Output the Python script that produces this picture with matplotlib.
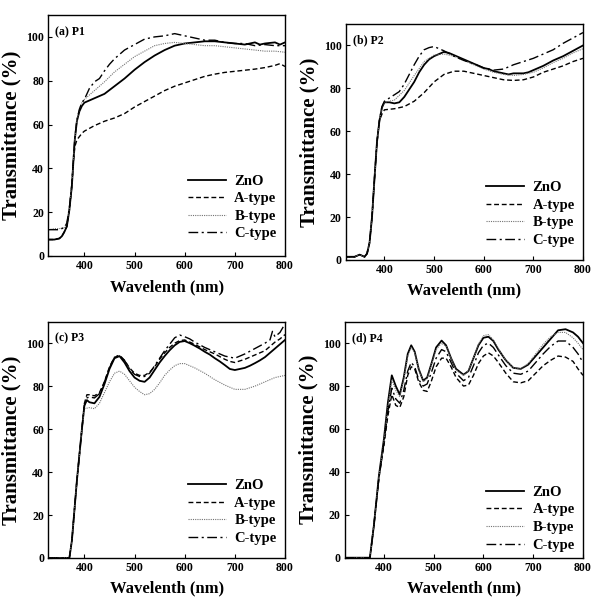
import numpy as np
import matplotlib
matplotlib.use("Agg")
import matplotlib.pyplot as plt

plt.rcParams['font.family'] = ['Liberation Serif', 'DejaVu Serif']
plt.rcParams['font.weight'] = 'bold'

# ---- (a) P1 ----
wl_p1_zno = [328, 340, 350, 355, 360, 365, 370, 375, 378, 381, 385, 390, 395, 400, 420, 440, 460, 480, 500,
             520, 540, 560, 580, 600, 620, 640, 660, 680, 700, 720, 740, 750, 760, 780, 790, 800]
t_p1_zno = [7.5, 7.5, 8, 9, 11, 13.5, 21, 32, 43, 53.5, 61.5, 66, 68.5, 70, 72, 74, 77.5, 81, 85,
            88.5, 91.5, 94, 96, 97, 97.5, 98, 98, 97.5, 97, 96.5, 97.5, 96.5, 97, 97.5, 96.5, 97.5]
wl_p1_a = [328, 340, 350, 355, 360, 365, 370, 375, 378, 381, 385, 390, 395, 400, 420, 440, 460, 480, 500,
           520, 540, 560, 580, 600, 620, 640, 660, 680, 700, 720, 740, 760, 780, 790, 800]
t_p1_a = [7.5, 7.5, 8, 9, 11, 13.5, 21, 32, 43, 50, 53, 54.5, 56, 57, 59.5, 61.5, 63, 65, 68,
          70.5, 73, 75.5, 77.5, 79, 80.5, 82, 83, 83.8, 84.3, 84.8, 85.3, 86, 87, 87.8, 86.5]
wl_p1_b = [328, 340, 350, 360, 365, 370, 375, 378, 381, 385, 390, 395, 400, 420, 440, 460, 480, 500, 520,
           540, 560, 580, 600, 620, 640, 660, 680, 700, 720, 740, 760, 780, 800]
t_p1_b = [12, 12.5, 12.5, 13, 15, 22, 33, 44, 54, 62, 67, 70, 71.5, 75.5, 79.5, 84, 87.5, 91, 93.5,
          96, 97, 97.5, 97, 96.5, 96, 96, 95.5, 95, 94.5, 94, 93.5, 93.5, 93]
wl_p1_c = [328, 340, 350, 360, 365, 370, 375, 378, 381, 385, 390, 395, 400, 410, 420, 430, 440, 450, 460,
           470, 480, 500, 520, 540, 560, 580, 600, 620, 640, 660, 680, 700, 720, 740, 760, 780, 800]
t_p1_c = [12, 12, 12, 13, 15, 22, 33, 44, 54, 62, 67, 70, 71.5, 76.5, 79.5, 81, 84.5, 87.5, 90,
          92, 94, 96.5, 99, 100, 100.5, 101.5, 100.5, 99.5, 98.5, 98.5, 97.5, 97, 97, 96, 96.5, 96, 96]

# ---- (b) P2 ----
wl_p2_edge = [322, 330, 340, 345, 350, 355, 360, 365, 370, 375, 380, 385, 390]
t_p2_edge = [1.5, 1.5, 1.5, 2.0, 2.5, 2, 1.5, 3, 8, 20, 38, 55, 65]
wl_p2_zno = [395, 400, 410, 420, 430, 440, 450, 460, 470, 480, 490, 500, 510, 520, 530, 540, 550, 560, 570,
             580, 590, 600, 610, 620, 630, 640, 650, 660, 670, 680, 690, 700, 720, 740, 760, 780, 800]
t_p2_zno = [71, 73.5, 73.5, 73, 73.5, 76, 79.5, 83, 87.5, 91, 93.5, 95, 96, 97, 96.5, 95.5, 94.5, 93.5, 92.5,
            91.5, 90.5, 89.5, 89, 88, 87.5, 87, 86.5, 87, 87, 87, 87.5, 88.5, 90.5, 93, 95, 97.5, 100]
wl_p2_a = [395, 400, 420, 440, 460, 480, 500, 520, 540, 560, 580, 600, 620, 640, 660, 680, 700, 720, 740,
           760, 780, 800]
t_p2_a = [68, 70, 70.5, 71.5, 74, 78, 83, 86.5, 88, 88, 87, 86, 85, 84, 83.7, 84, 85.3, 87.5, 89,
          90.5, 92.5, 94]
wl_p2_b = [395, 400, 420, 440, 460, 480, 500, 520, 540, 560, 580, 600, 620, 640, 660, 680, 700, 720, 740,
           760, 780, 800]
t_p2_b = [71, 73.5, 74.5, 79, 86, 92.5, 95.5, 96, 95, 93, 91, 89, 87.5, 86.5, 86, 86.5, 87.5, 89.5, 92,
          94, 96.5, 98.5]
wl_p2_c = [395, 400, 410, 420, 430, 440, 450, 460, 470, 480, 490, 500, 510, 520, 540, 560, 580, 600, 620,
           640, 660, 680, 700, 720, 740, 760, 780, 800]
t_p2_c = [71.5, 74, 75.5, 77, 78.5, 82, 86.5, 91, 95, 98, 99, 99.5, 98.5, 97.5, 95, 93, 91.5, 89.5, 88.5,
          89, 91, 92.5, 94, 96, 98, 101, 103.5, 106]

# ---- (c) P3 ----
wl_p3_edge = [328, 360, 370, 375, 380, 385, 390, 395]
t_p3_edge = [0, 0, 0, 8, 22, 36, 48, 60]
wl_p3_zno = [395, 400, 405, 410, 420, 430, 440, 450, 460, 470, 480, 490, 500, 510, 520, 530, 540, 550, 560,
             570, 580, 590, 600, 610, 620, 630, 640, 650, 660, 670, 680, 690, 700, 710, 720, 730, 740, 750,
             760, 770, 780, 790, 800]
t_p3_zno = [60, 71, 73.5, 72.5, 72, 75, 81, 88, 93, 94, 91, 87, 84, 82.5, 82, 84, 87.5, 91, 94,
            96.7, 99, 100.6, 101, 100, 98.8, 97.5, 96, 94.7, 93, 91.5, 89.8, 88, 87.5, 88, 88.5, 89.5, 90.7, 92,
            93.5, 95.5, 97.5, 99.5, 101.5]
wl_p3_a = [395, 400, 405, 410, 420, 430, 440, 450, 460, 470, 480, 490, 500, 510, 520, 530, 540, 550, 560,
           570, 580, 590, 600, 610, 620, 640, 660, 680, 690, 700, 720, 740, 760, 770, 780, 790, 800]
t_p3_a = [60, 72, 76, 76, 75.5, 77, 82, 89, 93.5, 94, 92, 88.5, 86, 85, 85, 86.5, 89, 92.5, 95.5,
          98, 100, 101.2, 101.5, 100.5, 99.5, 97, 95, 92.5, 91.5, 91, 92.5, 94.5, 96.5, 98.5, 100.5, 102, 104]
wl_p3_b = [395, 400, 410, 420, 430, 440, 450, 460, 470, 480, 490, 500, 510, 520, 530, 540, 550, 560, 570,
           580, 590, 600, 610, 620, 640, 660, 680, 700, 720, 740, 760, 780, 800]
t_p3_b = [60, 69.5, 70, 69.5, 72, 77, 82, 86, 87, 85.5, 82.5, 79.5, 77.5, 76, 76.5, 78.5, 81.5, 85, 87.5,
          89.5, 90.5, 90.5, 89.5, 88.5, 86, 83, 80.5, 78.5, 78.5, 80, 82, 84, 85]
wl_p3_c = [395, 400, 405, 410, 420, 430, 440, 450, 460, 470, 480, 490, 500, 510, 520, 530, 540, 550, 560,
           570, 580, 590, 600, 610, 620, 640, 660, 680, 690, 700, 720, 740, 760, 770, 775, 780, 790, 800]
t_p3_c = [60, 71, 74.5, 75, 74.5, 76.5, 82, 88.5, 93.5, 94.5, 92, 88, 85.5, 84.5, 84.5, 86, 89.5, 93, 96.5,
          99.5, 102.5, 103.8, 103, 102, 100.5, 98, 96, 94, 93.5, 93, 95, 97.5, 100, 101.5, 105.5, 103, 105, 109]

# ---- (d) P4 ----
wl_p4 = [322, 360, 372, 380, 390, 400, 408, 416, 424, 432, 440, 448, 455, 462, 470, 479, 487, 495, 505,
         516, 525, 535, 545, 560, 570, 580, 590, 600, 610, 620, 630, 645, 660, 675, 690, 705, 720, 735,
         750, 765, 780, 790, 800]
t_p4_zno = [0, 0, 0, 15, 38, 55, 72, 85, 80, 76, 84, 95, 99, 96, 88, 82.5, 84, 90, 98,
            101.2, 99, 93, 88, 85.3, 87, 93, 99, 102.5, 103, 101, 97, 92, 88.5, 88, 90, 94, 98, 102,
            106, 106.5, 105, 103, 100]
t_p4_a = [0, 0, 0, 15, 37, 52, 66, 76, 71, 70, 75, 85, 89, 88, 82, 78, 77.5, 82, 89,
          93, 93, 89, 84, 80, 80.5, 85, 90.5, 94, 95.5, 94, 91, 86, 82, 81.5, 82.5, 86, 89.5, 92,
          94, 93.5, 91.5, 88, 85]
t_p4_b = [0, 0, 0, 15, 38, 54, 70, 83, 78, 75, 83, 94, 98, 95.5, 88, 82, 83.5, 89.5, 97,
          100, 98.5, 93, 87.5, 85, 87, 93, 99.5, 103.5, 104, 101.5, 97.5, 92, 88.5, 88, 90.5, 95, 99.5, 103,
          105, 105, 102.5, 100, 97]
t_p4_c = [0, 0, 0, 15, 37, 53, 68, 79, 74, 72, 78, 87, 91, 89, 83, 80, 81, 86, 93,
          97, 96, 91, 86, 82.5, 84, 89.5, 95.5, 99, 100, 98, 94.5, 89.5, 86, 85.5, 87, 91, 95, 98.5,
          101, 101, 98, 95, 91]

labels = ['ZnO', 'A-type', 'B-type', 'C-type']
styles = [dict(color='black', lw=1.3, ls='-'),
          dict(color='black', lw=1.0, ls=(0, (3.5, 2))),
          dict(color='0.45', lw=0.8, ls=(0, (1, 1))),
          dict(color='black', lw=1.0, ls=(0, (7, 2.5, 1.5, 2.5)))]

fig = plt.figure(figsize=(6.02, 6.04), dpi=100)
W, H = 602.0, 604.0


def make_ax(left, top, right, bottom):
    return fig.add_axes([left / W, 1 - bottom / H, (right - left) / W, (bottom - top) / H])


def decorate(ax, xmin, title, leg_y):
    ax.set_xlim(xmin, 800)
    ax.set_ylim(0, 110)
    ax.set_xticks([400, 500, 600, 700, 800])
    ax.set_yticks([0, 20, 40, 60, 80, 100])
    ax.tick_params(direction='in', length=3, width=0.8, labelsize=8.5, pad=3)
    for lab in ax.get_xticklabels() + ax.get_yticklabels():
        lab.set_fontweight('bold')
    for sp in ax.spines.values():
        sp.set_linewidth(1.0)
    ax.set_xlabel('Wavelenth (nm)', fontsize=12, fontweight='bold')
    ax.set_ylabel('Transmittance (%)', fontsize=15, fontweight='bold')
    ax.xaxis.set_label_coords(0.5, -0.095)
    ax.yaxis.set_label_coords(-0.112, 0.5)
    ax.text(0.03, 0.955, title, transform=ax.transAxes, fontsize=8.5, fontweight='bold', va='top')
    ax.legend(loc='lower right', bbox_to_anchor=(1.02, leg_y), frameon=False,
              handlelength=2.6, handletextpad=0.6, labelspacing=0.3,
              prop=dict(weight='bold', size=10.5))


# (a)
ax = make_ax(48.3, 15, 285, 256)
ax.plot(wl_p1_zno, t_p1_zno, label=labels[0], **styles[0])
ax.plot(wl_p1_a, t_p1_a, label=labels[1], **styles[1])
ax.plot(wl_p1_b, t_p1_b, label=labels[2], **styles[2])
ax.plot(wl_p1_c, t_p1_c, label=labels[3], **styles[3])
decorate(ax, 328, '(a) P1', 0.01)

# (b)
ax = make_ax(345.7, 24, 583, 260)
ax.plot(wl_p2_edge + wl_p2_zno, t_p2_edge + t_p2_zno, label=labels[0], **styles[0])
ax.plot(wl_p2_edge + wl_p2_a, t_p2_edge + t_p2_a, label=labels[1], **styles[1])
ax.plot(wl_p2_edge + wl_p2_b, t_p2_edge + t_p2_b, label=labels[2], **styles[2])
ax.plot(wl_p2_edge + wl_p2_c, t_p2_edge + t_p2_c, label=labels[3], **styles[3])
decorate(ax, 322, '(b) P2', 0.0)

# (c)
ax = make_ax(48.3, 321.7, 285, 558)
ax.plot(wl_p3_edge + wl_p3_zno, t_p3_edge + t_p3_zno, label=labels[0], **styles[0])
ax.plot(wl_p3_edge + wl_p3_a, t_p3_edge + t_p3_a, label=labels[1], **styles[1])
ax.plot(wl_p3_edge + wl_p3_b, t_p3_edge + t_p3_b, label=labels[2], **styles[2])
ax.plot(wl_p3_edge + wl_p3_c, t_p3_edge + t_p3_c, label=labels[3], **styles[3])
decorate(ax, 328, '(c) P3', 0.0)

# (d)
ax = make_ax(345, 321.7, 583, 557.7)
ax.plot(wl_p4, t_p4_zno, label=labels[0], **styles[0])
ax.plot(wl_p4, t_p4_a, label=labels[1], **styles[1])
ax.plot(wl_p4, t_p4_b, label=labels[2], **styles[2])
ax.plot(wl_p4, t_p4_c, label=labels[3], **styles[3])
decorate(ax, 322, '(d) P4', -0.03)

fig.savefig('out.png', dpi=100)
